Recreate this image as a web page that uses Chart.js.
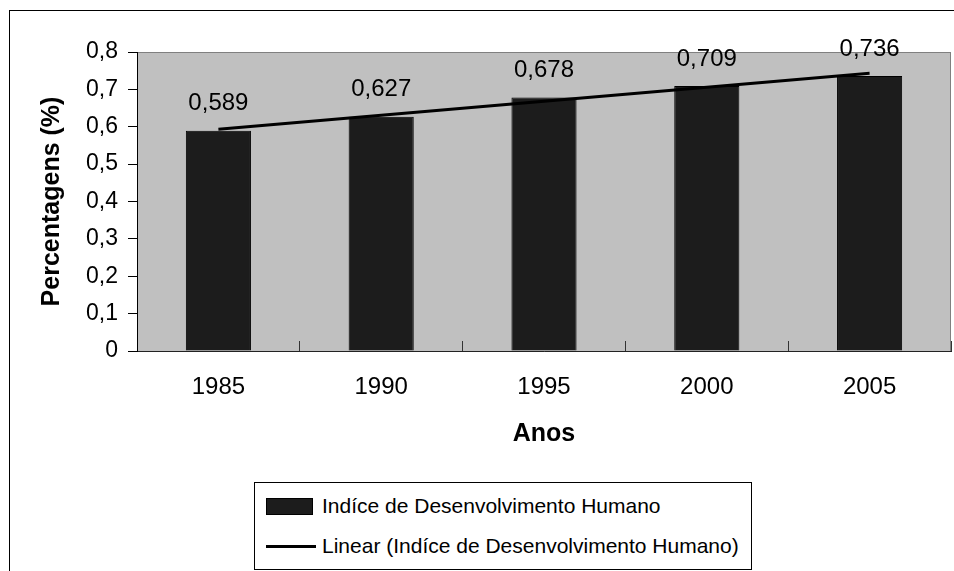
<!DOCTYPE html>
<html lang="pt">
<head>
<meta charset="utf-8">
<title>Índice de Desenvolvimento Humano</title>
<script src="https://cdn.jsdelivr.net/npm/chart.js@4/dist/chart.umd.min.js"></script>
<style>
    html, body {
        margin: 0;
        padding: 0;
        background: #fff;
        overflow: hidden;
    }
    #wrap {
        position: relative;
        width: 954px;
        height: 571px;
        overflow: hidden;
        font-family: 'Liberation Sans', Arial, sans-serif;
    }
    #frame {
        position: absolute;
        left: 9px;
        top: 10px;
        width: 980px;
        height: 600px;
        border: 1px solid #000;
    }
    #chart {
        position: absolute;
        left: 0;
        top: 0;
    }
    #legend {
        position: absolute;
        left: 254px;
        top: 482px;
        width: 498px;
        height: 88px;
        box-sizing: border-box;
        border: 1px solid #000;
        background: #fff;
        padding-top: 3px;
    }
    .legend-row {
        display: flex;
        align-items: center;
        height: 40px;
        padding-left: 11px;
        font-size: 21px;
        color: #000;
        white-space: nowrap;
    }
    .legend-box {
        width: 45px;
        height: 15px;
        background: #1c1c1c;
        border: 1px solid #000;
        margin-right: 9px;
    }
    .legend-line {
        width: 50px;
        height: 3px;
        background: #000;
        margin-right: 6px;
    }
</style>
</head>
<body>
<div id="wrap">
    <div id="frame"></div>
    <canvas id="chart" width="954" height="571"></canvas>
    <div id="legend"></div>
</div>
<script>
const years = ['1985', '1990', '1995', '2000', '2005'];
const idhValues = [0.589, 0.627, 0.678, 0.709, 0.736];
// linha de tendência (extremos)
const trendValues = [0.593, null, null, null, 0.743];
const yMin = 0;
const yMax = 0.8;
const yStep = 0.1;

const barLabel = 'Indíce de Desenvolvimento Humano';
const trendLabel = 'Linear (Indíce de Desenvolvimento Humano)';

document.addEventListener('DOMContentLoaded', () => {
    const fontFamily = "'Liberation Sans', Arial, sans-serif";

    function formatComma(value, digits) {
        if (value === 0) return '0';
        return value.toFixed(digits).replace('.', ',');
    }

    const plotBackground = {
        id: 'plotBackground',
        beforeDraw(chart) {
            const { ctx, chartArea } = chart;
            ctx.save();
            ctx.fillStyle = '#c0c0c0';
            ctx.fillRect(chartArea.left, chartArea.top, chartArea.right - chartArea.left, chartArea.bottom - chartArea.top);
            ctx.strokeStyle = '#808080';
            ctx.lineWidth = 1;
            ctx.strokeRect(chartArea.left + 0.5, chartArea.top + 0.5, chartArea.right - chartArea.left - 1, chartArea.bottom - chartArea.top);
            ctx.restore();
        }
    };

    const valueLabels = {
        id: 'valueLabels',
        afterDatasetsDraw(chart) {
            const { ctx } = chart;
            const index = chart.data.datasets.findIndex(ds => ds.type === 'bar');
            const meta = chart.getDatasetMeta(index);
            const values = chart.data.datasets[index].data;
            ctx.save();
            ctx.font = '24px ' + fontFamily;
            ctx.fillStyle = '#000';
            ctx.textAlign = 'center';
            ctx.textBaseline = 'middle';
            meta.data.forEach((bar, i) => {
                ctx.fillText(formatComma(values[i], 3), bar.x, bar.y - 27);
            });
            ctx.restore();
        }
    };

    const canvas = document.getElementById('chart');
    const chart = new Chart(canvas, {
        data: {
            labels: years,
            datasets: [{
                type: 'line',
                label: trendLabel,
                data: trendValues,
                borderColor: '#000',
                borderWidth: 3,
                pointRadius: 0,
                spanGaps: true,
                fill: false,
                order: 0
            }, {
                type: 'bar',
                label: barLabel,
                data: idhValues,
                backgroundColor: '#1c1c1c',
                borderColor: '#000',
                borderWidth: 1,
                categoryPercentage: 1,
                barPercentage: 0.4,
                order: 1
            }]
        },
        options: {
            responsive: false,
            animation: false,
            layout: {
                padding: { left: 0, top: 52, right: 3, bottom: 120 }
            },
            plugins: {
                legend: { display: false },
                tooltip: { enabled: false }
            },
            scales: {
                x: {
                    afterFit(scale) { scale.height = 100; },
                    grid: {
                        offset: true,
                        drawOnChartArea: false,
                        tickLength: -10,
                        color: '#333'
                    },
                    border: { color: '#222', width: 1 },
                    ticks: {
                        color: '#000',
                        padding: 32,
                        font: { family: fontFamily, size: 24 }
                    },
                    title: {
                        display: true,
                        text: 'Anos',
                        color: '#000',
                        padding: { top: 0, bottom: 2 },
                        font: { family: fontFamily, size: 25, weight: 'bold' }
                    }
                },
                y: {
                    min: yMin,
                    max: yMax,
                    afterFit(scale) { scale.width = 137; },
                    grid: {
                        drawOnChartArea: false,
                        tickLength: 9,
                        color: '#000'
                    },
                    border: { color: '#000', width: 1 },
                    ticks: {
                        stepSize: yStep,
                        color: '#000',
                        padding: 10,
                        font: { family: fontFamily, size: 23 },
                        callback: value => formatComma(value, 1)
                    },
                    title: {
                        display: true,
                        text: 'Percentagens (%)',
                        color: '#000',
                        padding: { top: 37, bottom: 0 },
                        font: { family: fontFamily, size: 25, weight: 'bold' }
                    }
                }
            }
        },
        plugins: [plotBackground, valueLabels]
    });

    // legenda em HTML, a partir dos datasets
    const legend = document.getElementById('legend');
    const legendOrder = [1, 0];
    legendOrder.forEach(i => {
        const ds = chart.data.datasets[i];
        const row = document.createElement('div');
        row.className = 'legend-row';
        const icon = document.createElement('span');
        icon.className = ds.type === 'bar' ? 'legend-box' : 'legend-line';
        const text = document.createElement('span');
        text.textContent = ds.label;
        row.appendChild(icon);
        row.appendChild(text);
        legend.appendChild(row);
    });
});
</script>
</body>
</html>
